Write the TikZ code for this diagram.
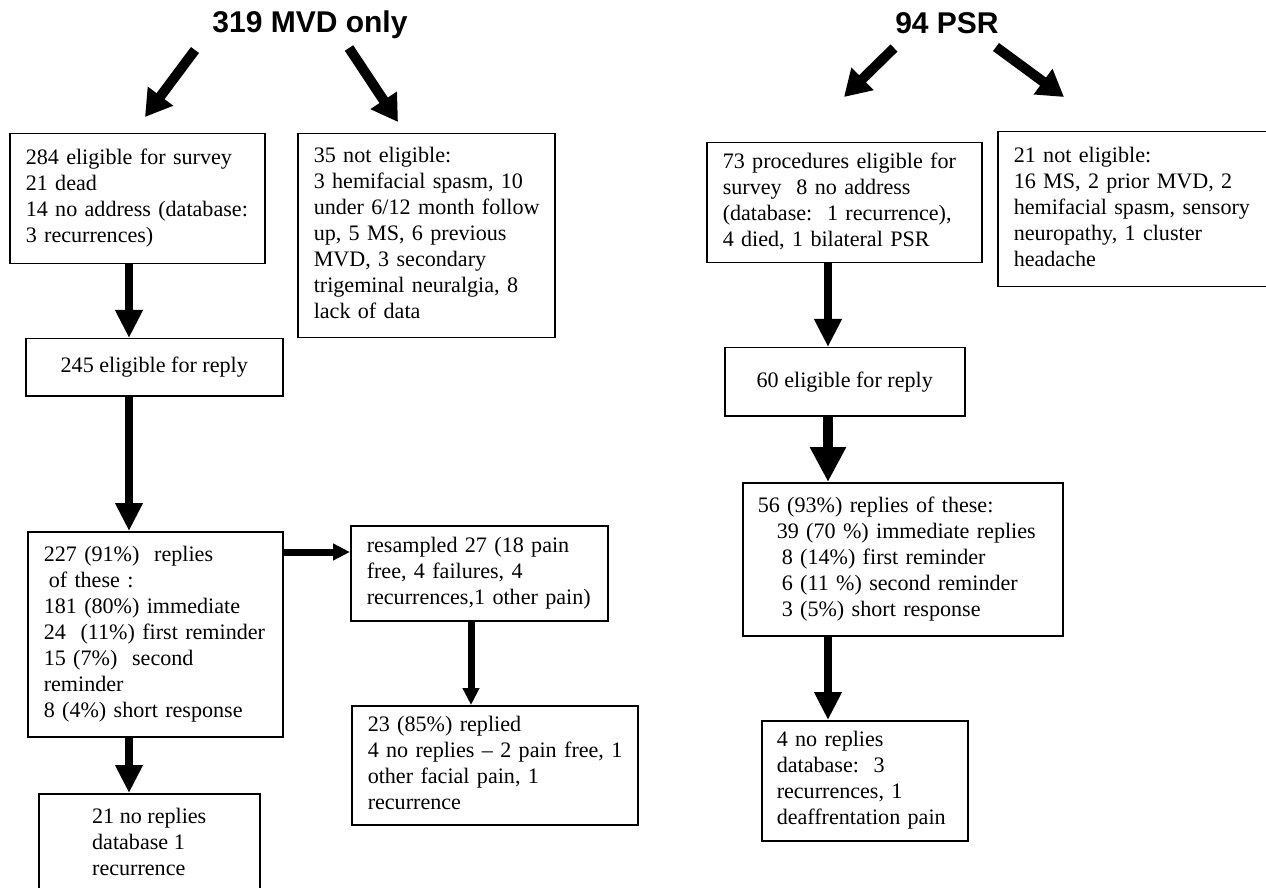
\documentclass[tikz,border=0pt]{standalone}
\usepackage{fontspec}
\setmainfont{Liberation Serif}
\newfontfamily\headfont{Liberation Sans}
\usepackage{tikz}
\usetikzlibrary{arrows.meta}

\newcommand{\bodyfont}{\fontsize{11.05}{13}\selectfont}
\newcommand{\boxlines}[1]{\begin{tabular}{@{}l@{}}#1\end{tabular}}

\tikzset{
  box/.style={draw, line width=0.75pt, anchor=north west, inner xsep=8pt, inner ysep=0pt, align=left, font=\bodyfont},
  cbox/.style={draw, line width=0.75pt, anchor=north west, inner sep=0pt, align=center, font=\bodyfont},
  headline/.style={font=\headfont\bfseries\fontsize{15}{18}\selectfont},
  toparrow/.style={line width=5pt, -{Triangle[length=13pt,width=15pt]}},
  bigarrow/.style={line width=4pt, -{Triangle[length=14pt,width=13pt]}},
  fatarrow/.style={line width=5pt, -{Triangle[length=17.5pt,width=17pt]}},
  smallarrow/.style={line width=3.5pt, -{Triangle[length=8.5pt,width=8pt]}}
}

\begin{document}
\begin{tikzpicture}[x=0.5pt,y=-0.5pt]
  \useasboundingbox (0,0) rectangle (1266,888);
  \clip (0,0) rectangle (1266,888);

  % titles
  \node[headline] (titleMVD) at (310,25) {319 MVD only};
  \node[headline] (titlePSR) at (947,23) {94 PSR};

  % MVD column
  \node[box, text width=111.5pt, minimum height=65pt] (eligMVD) at (9,133)
    {\boxlines{284 eligible for survey\\21 dead\\14 no address (database:\\3 recurrences)}};
  \node[box, text width=112.5pt, minimum height=102pt] (noteligMVD) at (297,133)
    {\boxlines{35 not eligible:\\3 hemifacial spasm, 10\\under 6/12 month follow\\up, 5 MS, 6 previous\\MVD, 3 secondary\\trigeminal neuralgia, 8\\lack of data}};
  \node[cbox, minimum width=128.5pt, minimum height=28.5pt] (replyMVD) at (25,338)
    {245 eligible for reply};
  \node[box, text width=111.5pt, minimum height=102.5pt] (answMVD) at (27,531)
    {\boxlines{227 (91\%)~~replies\\\hspace*{2.5pt}of these :\\181 (80\%) immediate\\24~~(11\%) first reminder\\15 (7\%)~~second\\reminder\\8 (4\%) short response}};
  \node[box, text width=112.5pt, minimum height=47.5pt] (resampMVD) at (350,525)
    {\boxlines{resampled 27 (18 pain\\free, 4 failures, 4\\recurrences,1 other pain)}};
  \node[box, text width=127pt, minimum height=59.5pt] (resampAns) at (351,705)
    {\boxlines{23 (85\%) replied\\4 no replies -- 2 pain free, 1\\other facial pain, 1\\recurrence}};
  \node[cbox, minimum width=110.5pt, minimum height=51pt] (noansMVD) at (38,793)
    {\boxlines{21 no replies\\database 1\\recurrence}};

  % PSR column
  \node[box, text width=121.5pt, minimum height=60pt] (eligPSR) at (706,142)
    {\boxlines{73 procedures eligible for\\survey~~8 no address\\(database:~~1 recurrence),\\4 died, 1 bilateral PSR}};
  \node[box, text width=123pt, minimum height=77.5pt] (noteligPSR) at (997,131)
    {\boxlines{21 not eligible:\\16 MS, 2 prior MVD, 2\\hemifacial spasm, sensory\\neuropathy, 1 cluster\\headache}};
  \node[cbox, minimum width=120pt, minimum height=34pt] (replyPSR) at (724,347)
    {60 eligible for reply};
  \node[box, inner xsep=7.5pt, text width=145pt, minimum height=76.5pt] (answPSR) at (742,482)
    {\boxlines{56 (93\%) replies of these:\\\hspace*{9.5pt}39 (70 \%) immediate replies\\\hspace*{12pt}8 (14\%) first reminder\\\hspace*{12pt}6 (11 \%) second reminder\\\hspace*{12pt}3 (5\%) short response}};
  \node[box, inner xsep=7.5pt, text width=88pt, minimum height=60pt] (noansPSR) at (761,720)
    {\boxlines{4 no replies\\database:~~3\\recurrences, 1\\deaffrentation pain}};

  % arrow ends
  \coordinate (mvdL0) at (195,50);
  \coordinate (mvdL1) at (145,117);
  \coordinate (mvdR0) at (349,48);
  \coordinate (mvdR1) at (398,122);
  \coordinate (psrL0) at (894,48);
  \coordinate (psrL1) at (844,97);
  \coordinate (psrR0) at (996,47);
  \coordinate (psrR1) at (1064,97);
  \coordinate (colA) at (129,0);
  \coordinate (colR) at (471,0);
  \coordinate (colP) at (828,0);
  \coordinate (rowH) at (0,552);

  % arrows
  \draw[toparrow] (mvdL0) -- (mvdL1);
  \draw[toparrow] (mvdR0) -- (mvdR1);
  \draw[toparrow] (psrL0) -- (psrL1);
  \draw[toparrow] (psrR0) -- (psrR1);
  \draw[bigarrow] (eligMVD.south -| colA) -- (replyMVD.north -| colA);
  \draw[bigarrow] (replyMVD.south -| colA) -- (answMVD.north -| colA);
  \draw[bigarrow] (answMVD.south -| colA) -- (noansMVD.north -| colA);
  \draw[smallarrow] (answMVD.east |- rowH) -- (resampMVD.west |- rowH);
  \draw[smallarrow] (resampMVD.south -| colR) -- (resampAns.north -| colR);
  \draw[bigarrow] (eligPSR.south -| colP) -- (replyPSR.north -| colP);
  \draw[fatarrow] (replyPSR.south -| colP) -- (answPSR.north -| colP);
  \draw[bigarrow] (answPSR.south -| colP) -- (noansPSR.north -| colP);
\end{tikzpicture}
\end{document}
